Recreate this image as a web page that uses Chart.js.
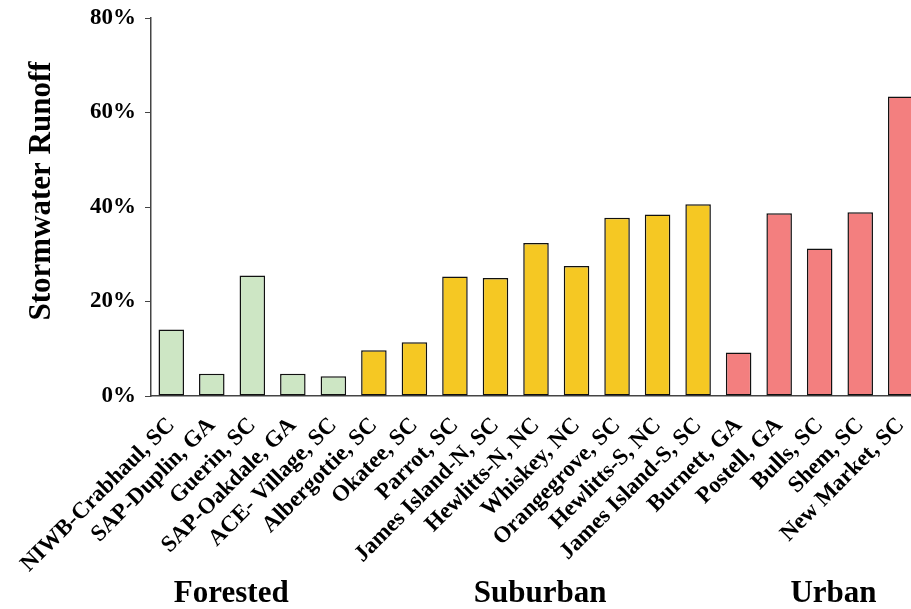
<!DOCTYPE html>
<html>
<head>
<meta charset="utf-8">
<script src="https://cdn.jsdelivr.net/npm/chart.js@4"></script>
<style>
  html, body { margin: 0; padding: 0; background: #fff; overflow: hidden; }
  body { width: 911px; height: 609px; }
  /* the right-most bar is cut by the frame in the original, so the canvas runs a little past it */
  #wrap { width: 921px; height: 609px; position: relative; }
</style>
</head>
<body>
<div id="wrap"><canvas id="runoffChart"></canvas></div>
<script>
const sites = [
    'NIWB-Crabhaul, SC', 'SAP-Duplin, GA', 'Guerin, SC', 'SAP-Oakdale, GA', 'ACE- Village, SC',
    'Albergottie, SC', 'Okatee, SC', 'Parrot, SC', 'James Island-N, SC', 'Hewlitts-N, NC',
    'Whiskey, NC', 'Orangegrove, SC', 'Hewlitts-S, NC', 'James Island-S, SC',
    'Burnett, GA', 'Postell, GA', 'Bulls, SC', 'Shem, SC', 'New Market, SC'
];
const runoffPct = [
    14.1, 4.7, 25.5, 4.7, 4.2,
    9.7, 11.4, 25.3, 25.0, 32.4, 27.5, 37.7, 38.4, 40.6,
    9.2, 38.7, 31.2, 38.9, 63.4
];
const groupNames = ['Forested', 'Suburban', 'Urban'];
const groupSizes = [5, 9, 5];
const groupColors = ['#cde6c4', '#f5c823', '#f37f7f'];
// where each group caption sits, in category units
const groupCaptionAt = [1.48, 9.1, 16.34];
const yTicks = [0, 20, 40, 60, 80];

const barColors = [];
groupSizes.forEach((n, g) => { for (let i = 0; i < n; i++) barColors.push(groupColors[g]); });

const serif = '"Liberation Serif", "Times New Roman", serif';

const captions = {
    id: 'captions',
    afterDraw(chart) {
        const ctx = chart.ctx;
        const xs = chart.scales.x;
        const area = chart.chartArea;
        ctx.save();
        ctx.fillStyle = '#000';
        ctx.font = 'bold 31px ' + serif;
        ctx.textAlign = 'center';
        ctx.textBaseline = 'alphabetic';
        groupNames.forEach((name, i) => {
            ctx.fillText(name, xs.getPixelForValue(groupCaptionAt[i]), 602);
        });
        // y axis title
        ctx.translate(42, (area.top + area.bottom) / 2 - 16);
        ctx.rotate(-Math.PI / 2);
        ctx.font = 'bold 31px ' + serif;
        ctx.textBaseline = 'middle';
        ctx.fillText('Stormwater Runoff', 0, 0);
        ctx.restore();
    }
};

new Chart(document.getElementById('runoffChart').getContext('2d'), {
    type: 'bar',
    data: {
        labels: sites,
        datasets: [{
            data: runoffPct,
            backgroundColor: barColors,
            borderColor: '#111',
            borderWidth: 1.5,
            borderSkipped: false,
            barPercentage: 0.63,
            categoryPercentage: 1
        }]
    },
    options: {
        responsive: true,
        maintainAspectRatio: false,
        animation: false,
        layout: { padding: { top: 18, right: 0, left: 0, bottom: 0 } },
        plugins: { legend: { display: false }, tooltip: { enabled: false } },
        scales: {
            x: {
                grid: { display: false, drawTicks: false },
                border: { color: '#444', width: 1.5 },
                ticks: {
                    color: '#000',
                    font: { family: serif, weight: 'bold', size: 23 },
                    minRotation: 45,
                    maxRotation: 45,
                    autoSkip: false,
                    padding: 16
                },
                afterFit(scale) {
                    scale.height = 213;
                    scale.paddingRight = 0;
                }
            },
            y: {
                min: 0,
                max: 80,
                afterBuildTicks(scale) { scale.ticks = yTicks.map(v => ({ value: v })); },
                grid: { drawOnChartArea: false, drawTicks: true, tickLength: 6, color: '#444' },
                border: { color: '#444', width: 1.5 },
                ticks: {
                    color: '#000',
                    font: { family: serif, weight: 'bold', size: 23 },
                    padding: 9,
                    callback: v => v + '%'
                },
                afterFit(scale) {
                    scale.width = 151;
                    scale.paddingTop = 0;
                    scale.paddingBottom = 0;
                }
            }
        }
    },
    plugins: [captions]
});
</script>
</body>
</html>
